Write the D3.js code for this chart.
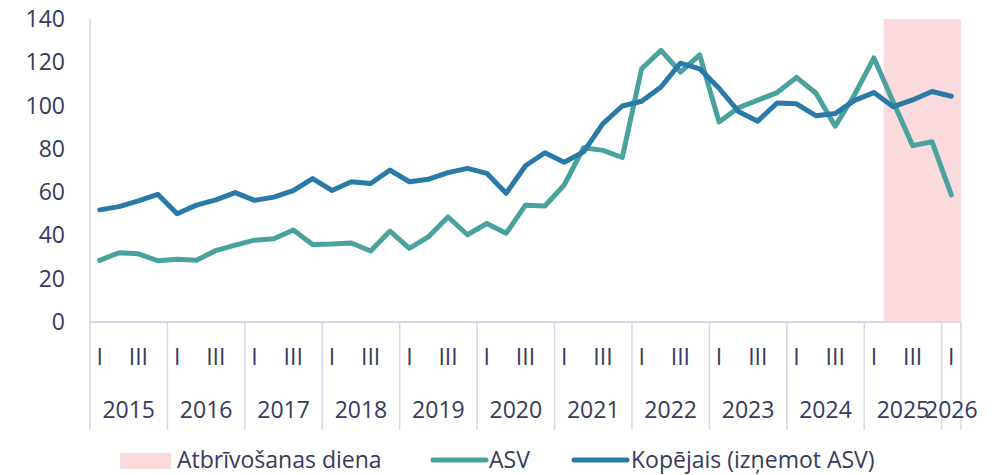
<!DOCTYPE html>
<html>
<head>
<meta charset="utf-8">
<script src="https://cdn.jsdelivr.net/npm/d3@7"></script>
<style>
  html, body { margin: 0; padding: 0; background: #ffffff; }
  svg { display: block; }
  text { font-family: "Open Sans", "Noto Sans", sans-serif; fill: #363a60; }
</style>
</head>
<body>
<svg id="chart" width="1002" height="475"></svg>
<script>
// ---- data ----
const years = ["2015","2016","2017","2018","2019","2020","2021","2022","2023","2024","2025","2026"];
const quarterNames = ["I","II","III","IV"];
const periods = [
  "2015 I","2015 II","2015 III","2015 IV",
  "2016 I","2016 II","2016 III","2016 IV",
  "2017 I","2017 II","2017 III","2017 IV",
  "2018 I","2018 II","2018 III","2018 IV",
  "2019 I","2019 II","2019 III","2019 IV",
  "2020 I","2020 II","2020 III","2020 IV",
  "2021 I","2021 II","2021 III","2021 IV",
  "2022 I","2022 II","2022 III","2022 IV",
  "2023 I","2023 II","2023 III","2023 IV",
  "2024 I","2024 II","2024 III","2024 IV",
  "2025 I","2025 II","2025 III","2025 IV",
  "2026 I"
];
const asv = [
  28.5, 32.0, 31.5, 28.3,
  29.0, 28.5, 33.0, 35.5,
  37.8, 38.5, 42.5, 35.8,
  36.0, 36.5, 32.8, 42.0,
  34.0, 39.5, 48.5, 40.3,
  45.5, 41.0, 54.0, 53.6,
  63.3, 80.5, 79.3, 76.0,
  117.0, 125.5, 115.5, 123.4,
  92.4, 99.0, 102.5, 106.0,
  113.0, 105.8, 90.5, 105.0,
  122.0, 101.7, 81.5, 83.3,
  58.7
];
const total = [
  51.8, 53.3, 56.0, 59.0,
  50.0, 54.0, 56.4, 59.8,
  56.2, 57.7, 60.7, 66.3,
  60.8, 64.8, 64.0, 70.2,
  64.8, 66.0, 69.0, 71.0,
  68.7, 59.5, 72.2, 78.2,
  73.8, 78.6, 91.7, 99.8,
  102.0, 108.6, 119.6, 117.0,
  108.0, 97.3, 92.8, 101.2,
  100.8, 95.3, 96.3, 102.4,
  106.0, 99.5, 102.6, 106.5,
  104.3
];
const shadeStart = "2025 II";
const shadeEnd = "2026 I";
const yTicks = [0, 20, 40, 60, 80, 100, 120, 140];
const legendLabels = ["Atbrīvošanas diena", "ASV", "Kopējais (izņemot ASV)"];

// ---- styles ----
const colShade = "#fadadc";
const colAsv = "#4aa29f";
const colTotal = "#2b79a6";
const colAxis = "#d8d8ea";
const fs = 23;

const svg = d3.select("#chart");
const mLeft = 90, mRight = 961, mTop = 19, mBottom = 322;

const x = d3.scaleBand().domain(periods).range([mLeft, mRight]).padding(0);
const y = d3.scaleLinear().domain([0, 140]).range([mBottom, mTop]);
const bw = x.bandwidth();
const cx = p => x(p) + bw / 2;

// shaded region
svg.append("rect")
  .attr("x", x(shadeStart))
  .attr("y", y(140))
  .attr("width", x(shadeEnd) + bw - x(shadeStart))
  .attr("height", y(0) - y(140))
  .attr("fill", colShade);

// y axis labels
svg.append("g").selectAll("text").data(yTicks).join("text")
  .attr("x", 65)
  .attr("y", d => y(d))
  .attr("dy", "0.35em")
  .attr("text-anchor", "end")
  .attr("font-size", fs)
  .text(d => d);

// y axis line
svg.append("line")
  .attr("x1", mLeft).attr("x2", mLeft)
  .attr("y1", y(140)).attr("y2", 430)
  .attr("stroke", colAxis).attr("stroke-width", 1.5);

// x axis line
svg.append("line")
  .attr("x1", mLeft).attr("x2", mRight)
  .attr("y1", y(0)).attr("y2", y(0))
  .attr("stroke", colAxis).attr("stroke-width", 2);

// year separators
const yearStarts = years.map(yr => periods.find(p => p.startsWith(yr)));
const sepXs = yearStarts.map(p => x(p)).concat([mRight]);
svg.append("g").selectAll("line").data(sepXs.slice(1)).join("line")
  .attr("x1", d => d).attr("x2", d => d)
  .attr("y1", y(0)).attr("y2", 430)
  .attr("stroke", colAxis).attr("stroke-width", 1.5);

// quarter labels (I and III)
const qLabeled = periods.filter(p => { const q = p.split(" ")[1]; return q === quarterNames[0] || q === quarterNames[2]; });
svg.append("g").selectAll("text").data(qLabeled).join("text")
  .attr("x", p => cx(p))
  .attr("y", 357)
  .attr("dy", "0.35em")
  .attr("text-anchor", "middle")
  .attr("font-size", fs)
  .text(p => p.split(" ")[1]);

// year labels
svg.append("g").selectAll("text").data(years).join("text")
  .attr("x", yr => {
    const ps = periods.filter(p => p.startsWith(yr));
    return (x(ps[0]) + x(ps[ps.length - 1]) + bw) / 2;
  })
  .attr("y", 410)
  .attr("dy", "0.35em")
  .attr("text-anchor", "middle")
  .attr("font-size", fs)
  .text(d => d);

// lines
const line = d3.line().x((d, i) => cx(periods[i])).y(d => y(d));
svg.append("path").datum(asv)
  .attr("d", line).attr("fill", "none")
  .attr("stroke", colAsv).attr("stroke-width", 5)
  .attr("stroke-linejoin", "round").attr("stroke-linecap", "round");
svg.append("path").datum(total)
  .attr("d", line).attr("fill", "none")
  .attr("stroke", colTotal).attr("stroke-width", 5)
  .attr("stroke-linejoin", "round").attr("stroke-linecap", "round");

// legend
const lg = svg.append("g");
const ly = 460;
lg.append("rect").attr("x", 120).attr("y", ly - 7).attr("width", 51).attr("height", 16).attr("fill", colShade);
lg.append("text").attr("x", 177).attr("y", ly).attr("dy", "0.35em").attr("font-size", fs).text(legendLabels[0]);
lg.append("line").attr("x1", 433).attr("x2", 486).attr("y1", ly).attr("y2", ly)
  .attr("stroke", colAsv).attr("stroke-width", 5).attr("stroke-linecap", "round");
lg.append("text").attr("x", 489).attr("y", ly).attr("dy", "0.35em").attr("font-size", fs).text(legendLabels[1]);
lg.append("line").attr("x1", 574).attr("x2", 627).attr("y1", ly).attr("y2", ly)
  .attr("stroke", colTotal).attr("stroke-width", 5).attr("stroke-linecap", "round");
lg.append("text").attr("x", 631).attr("y", ly).attr("dy", "0.35em").attr("font-size", fs).text(legendLabels[2]);
</script>
</body>
</html>
